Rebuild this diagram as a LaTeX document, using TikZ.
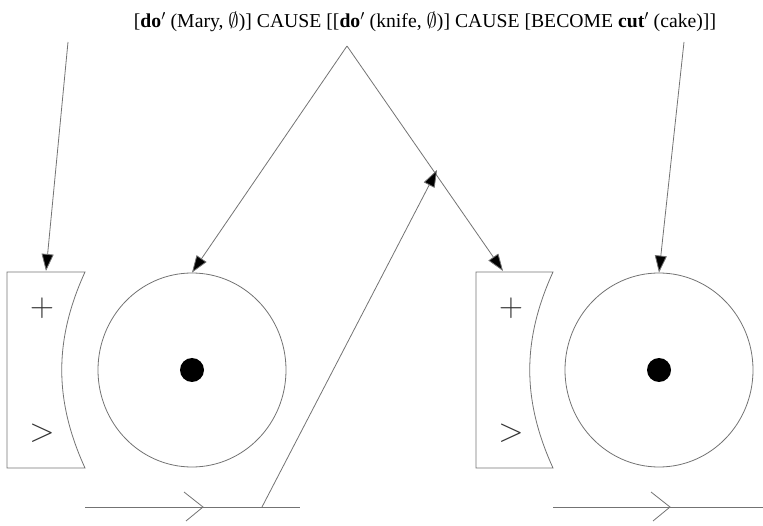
\documentclass[tikz,border=0pt]{standalone}
\usepackage{fontspec}
\setmainfont{Liberation Serif}
\usepackage{tikz}
\usetikzlibrary{arrows.meta,shapes.geometric}

\tikzset{
  ln/.style={draw=black!55, line width=0.8pt},
  pt/.style={ln, -{Triangle[length=17pt,width=12pt,fill=black]}},
  disc/.style={ellipse, ln, minimum width=188pt, minimum height=194pt, inner sep=0pt},
  sgn/.style={font=\fontsize{20}{20}\selectfont, text=black!80, scale=1.6, transform shape}
}

\begin{document}
\begin{tikzpicture}[x=1pt, y=-1pt]
  \useasboundingbox (0,0) rectangle (763,526);
  % formula
  \node[font=\fontsize{19.7}{22}\selectfont, inner sep=0pt] (lsr) at (425,22)
    {[\textbf{do}$'$ (Mary, $\emptyset$)] CAUSE [[\textbf{do}$'$ (knife, $\emptyset$)] CAUSE [BECOME \textbf{cut}$'$ (cake)]]};
  \coordinate (mary) at (68,42);
  \coordinate (knife) at (347,46);
  \coordinate (cake) at (684,42);
  % left panel
  \draw[ln] (7,272) -- (85,272) .. controls (54,340) and (54,400) .. (85,468) -- (7,468) -- cycle;
  \coordinate (lbox) at (46,271);
  \node[sgn] (lplus) at (42,308) {$+$};
  \node[sgn] (lgt) at (42,433) {$>$};
  \node[disc] (lc) at (192,370) {};
  \fill (lc.center) circle (12pt);
  % right panel
  \draw[ln] (476,272) -- (553,272) .. controls (522,340) and (522,400) .. (553,468) -- (476,468) -- cycle;
  \coordinate (rbox) at (503,271);
  \node[sgn] (rplus) at (511,308) {$+$};
  \node[sgn] (rgt) at (511,433) {$>$};
  \node[disc] (rc) at (659,370) {};
  \fill (rc.center) circle (12pt);
  % paths below
  \coordinate (la) at (85,507);
  \coordinate (lb) at (300,507);
  \coordinate (foot) at (262,507);
  \draw[ln] (la) -- (lb);
  \draw[ln] (184,492) -- (203,507) -- (186,521);
  \coordinate (ra) at (553,507);
  \coordinate (rb) at (763,507);
  \draw[ln] (ra) -- (rb);
  \draw[ln] (651,492) -- (670,507) -- (653,521);
  % links
  \draw[pt] (mary) -- (lbox);
  \draw[pt] (knife) -- (lc.north);
  \draw[pt] (knife) -- (rbox);
  \coordinate (hit) at (437,170);
  \draw[pt] (foot) -- (hit);
  \draw[pt] (cake) -- (rc.north);
\end{tikzpicture}
\end{document}
